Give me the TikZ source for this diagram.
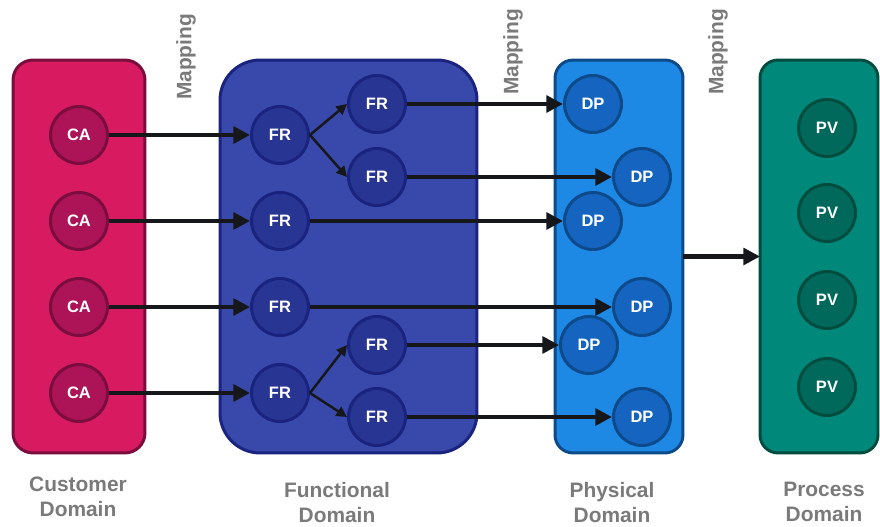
\documentclass[tikz,border=0pt]{standalone}
\usepackage{fontspec}
\setmainfont{Liberation Sans}
\usetikzlibrary{arrows.meta}

\definecolor{custFill}{HTML}{D81B60}
\definecolor{custDot}{HTML}{AD1457}
\definecolor{custLine}{HTML}{7B0D3E}
\definecolor{funcFill}{HTML}{3949AB}
\definecolor{funcDot}{HTML}{283593}
\definecolor{funcLine}{HTML}{1A237E}
\definecolor{physFill}{HTML}{1E88E5}
\definecolor{physDot}{HTML}{1565C0}
\definecolor{physLine}{HTML}{0D4A8A}
\definecolor{procFill}{HTML}{00897B}
\definecolor{procDot}{HTML}{00695C}
\definecolor{procLine}{HTML}{004D40}
\definecolor{arrowInk}{HTML}{15171A}
\definecolor{labelGray}{HTML}{7A7A7A}

\begin{document}
\begin{tikzpicture}[x=0.02cm,y=-0.02cm,
  domainbox/.style={draw,line width=1.7pt,inner sep=0pt,outer sep=0pt,minimum height=7.86cm},
  dot/.style={circle,draw,line width=1.7pt,minimum size=1.14cm,inner sep=0pt,text=white,
    font=\fontsize{9.4}{11}\selectfont\bfseries},
  ca/.style={dot,fill=custDot,draw=custLine},
  fr/.style={dot,fill=funcDot,draw=funcLine},
  dp/.style={dot,fill=physDot,draw=physLine},
  pv/.style={dot,fill=procDot,draw=procLine},
  link/.style={draw=arrowInk,line width=2.3pt,-{Triangle[length=9.5pt,width=9.5pt]}},
  split/.style={draw=arrowInk,line width=1.4pt,-{Triangle[length=6pt,width=6pt]}},
  mapping/.style={rotate=90,text=labelGray,font=\fontsize{11.9}{14}\selectfont\bfseries},
  caption/.style={anchor=north,align=center,inner sep=0pt,text=labelGray,
    font=\fontsize{11.9}{14.2}\selectfont\bfseries}]
\useasboundingbox (0,0) rectangle (880,527);

% domains
\node[domainbox,fill=custFill,draw=custLine,rounded corners=0.4cm,minimum width=2.64cm] (cust) at (79,256.5) {};
\node[domainbox,fill=funcFill,draw=funcLine,rounded corners=0.8cm,minimum width=5.14cm] (func) at (348.5,256.5) {};
\node[domainbox,fill=physFill,draw=physLine,rounded corners=0.36cm,minimum width=2.56cm] (phys) at (619,256.5) {};
\node[domainbox,fill=procFill,draw=procLine,rounded corners=0.36cm,minimum width=2.36cm] (proc) at (819,256.5) {};

% customer attributes
\node[ca] (ca1) at (79,135) {CA};
\node[ca] (ca2) at (79,221) {CA};
\node[ca] (ca3) at (79,307) {CA};
\node[ca] (ca4) at (79,393) {CA};

% functional requirements
\node[fr] (fr1) at (280,135) {FR};
\node[fr] (fr2) at (280,221) {FR};
\node[fr] (fr3) at (280,307) {FR};
\node[fr] (fr4) at (280,393) {FR};
\node[fr] (fr1a) at (377,104) {FR};
\node[fr] (fr1b) at (377,177) {FR};
\node[fr] (fr4a) at (377,345) {FR};
\node[fr] (fr4b) at (377,417) {FR};

% design parameters
\node[dp] (dp1) at (593,104) {DP};
\node[dp] (dp2) at (642,177) {DP};
\node[dp] (dp3) at (593,221) {DP};
\node[dp] (dp4) at (642,307) {DP};
\node[dp] (dp5) at (589,345) {DP};
\node[dp] (dp6) at (642,417) {DP};

% process variables
\node[pv] (pv1) at (827,128) {PV};
\node[pv] (pv2) at (827,213) {PV};
\node[pv] (pv3) at (827,300) {PV};
\node[pv] (pv4) at (827,387) {PV};

% mappings
\draw[link] (ca1) -- (fr1);
\draw[link] (ca2) -- (fr2);
\draw[link] (ca3) -- (fr3);
\draw[link] (ca4) -- (fr4);
\draw[split] (fr1.east) -- (fr1a.west);
\draw[split] (fr1.east) -- (fr1b.west);
\draw[split] (fr4.east) -- (fr4a.west);
\draw[split] (fr4.east) -- (fr4b.west);
\draw[link] (fr1a) -- (dp1);
\draw[link] (fr1b) -- (dp2);
\draw[link] (fr2) -- (dp3);
\draw[link] (fr3) -- (dp4);
\draw[link] (fr4a) -- (dp5);
\draw[link] (fr4b) -- (dp6);
\draw[link] (phys) -- (proc);

\node[mapping] (map1) at (186,57) {Mapping};
\node[mapping] (map2) at (513,52) {Mapping};
\node[mapping] (map3) at (718,52) {Mapping};

\node[caption] (capCust) at (78,477) {Customer\\Domain};
\node[caption] (capFunc) at (337,482) {Functional\\Domain};
\node[caption] (capPhys) at (612,482) {Physical\\Domain};
\node[caption] (capProc) at (824,482) {Process\\Domain};
\end{tikzpicture}
\end{document}
